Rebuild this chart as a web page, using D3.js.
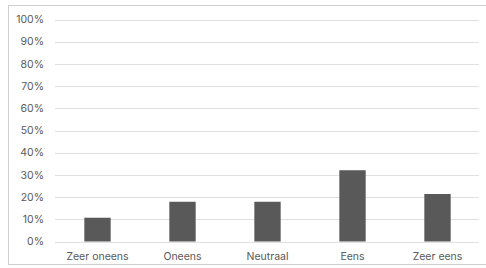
<!DOCTYPE html>
<html>
<head>
<meta charset="utf-8">
<script src="https://cdn.jsdelivr.net/npm/d3@7"></script>
<style>
  body { margin: 0; background: #fff; }
  svg { display: block; font-family: Inter, "Open Sans", sans-serif; }
</style>
</head>
<body>
<div id="container"></div>
<script>
/* DATA */
const categories = ["Zeer oneens", "Oneens", "Neutraal", "Eens", "Zeer eens"];
const values = [10.7, 17.9, 17.9, 32.1, 21.4];
const yTicks = [0, 10, 20, 30, 40, 50, 60, 70, 80, 90, 100];

/* CONSTANTS */
const width = 486;
const height = 268;
const margin = { top: 19.5, right: 6, bottom: 26.5, left: 55 };

const svg = d3.select("#container")
  .append("svg")
  .attr("width", width)
  .attr("height", height);

// outer frame
svg.append("rect")
  .attr("x", 8.5)
  .attr("y", 5.5)
  .attr("width", width)
  .attr("height", 259)
  .attr("fill", "none")
  .attr("stroke", "#cfcfcf");

/* SCALES */
const xScale = d3.scaleBand()
  .domain(categories)
  .range([margin.left, width - margin.right]);

const yScale = d3.scaleLinear()
  .domain([0, 100])
  .range([height - margin.bottom, margin.top]);

// gridlines
svg.append("g")
  .selectAll("line")
  .data(yTicks)
  .join("line")
  .attr("x1", margin.left)
  .attr("x2", width - margin.right - 1)
  .attr("y1", d => Math.round(yScale(d)) + 0.5)
  .attr("y2", d => Math.round(yScale(d)) + 0.5)
  .attr("stroke", "#e0e0e0");

// y labels
svg.append("g")
  .selectAll("text")
  .data(yTicks)
  .join("text")
  .attr("x", 44)
  .attr("y", d => yScale(d))
  .attr("dy", "0.35em")
  .attr("text-anchor", "end")
  .attr("font-size", "10.5px")
  .attr("fill", "#595959")
  .text(d => d + "%");

// bars
const barW = xScale.bandwidth() * 0.31;
svg.append("g")
  .selectAll("rect")
  .data(values)
  .join("rect")
  .attr("x", (d, i) => xScale(categories[i]) + xScale.bandwidth() / 2 - barW / 2)
  .attr("y", d => yScale(d))
  .attr("width", barW)
  .attr("height", d => yScale(0) - yScale(d))
  .attr("fill", "#595959");

// x labels
svg.append("g")
  .selectAll("text")
  .data(categories)
  .join("text")
  .attr("x", d => xScale(d) + xScale.bandwidth() / 2)
  .attr("y", yScale(0) + 14.5)
  .attr("dy", "0.35em")
  .attr("text-anchor", "middle")
  .attr("font-size", "10.5px")
  .attr("fill", "#595959")
  .text(d => d);
</script>
</body>
</html>
